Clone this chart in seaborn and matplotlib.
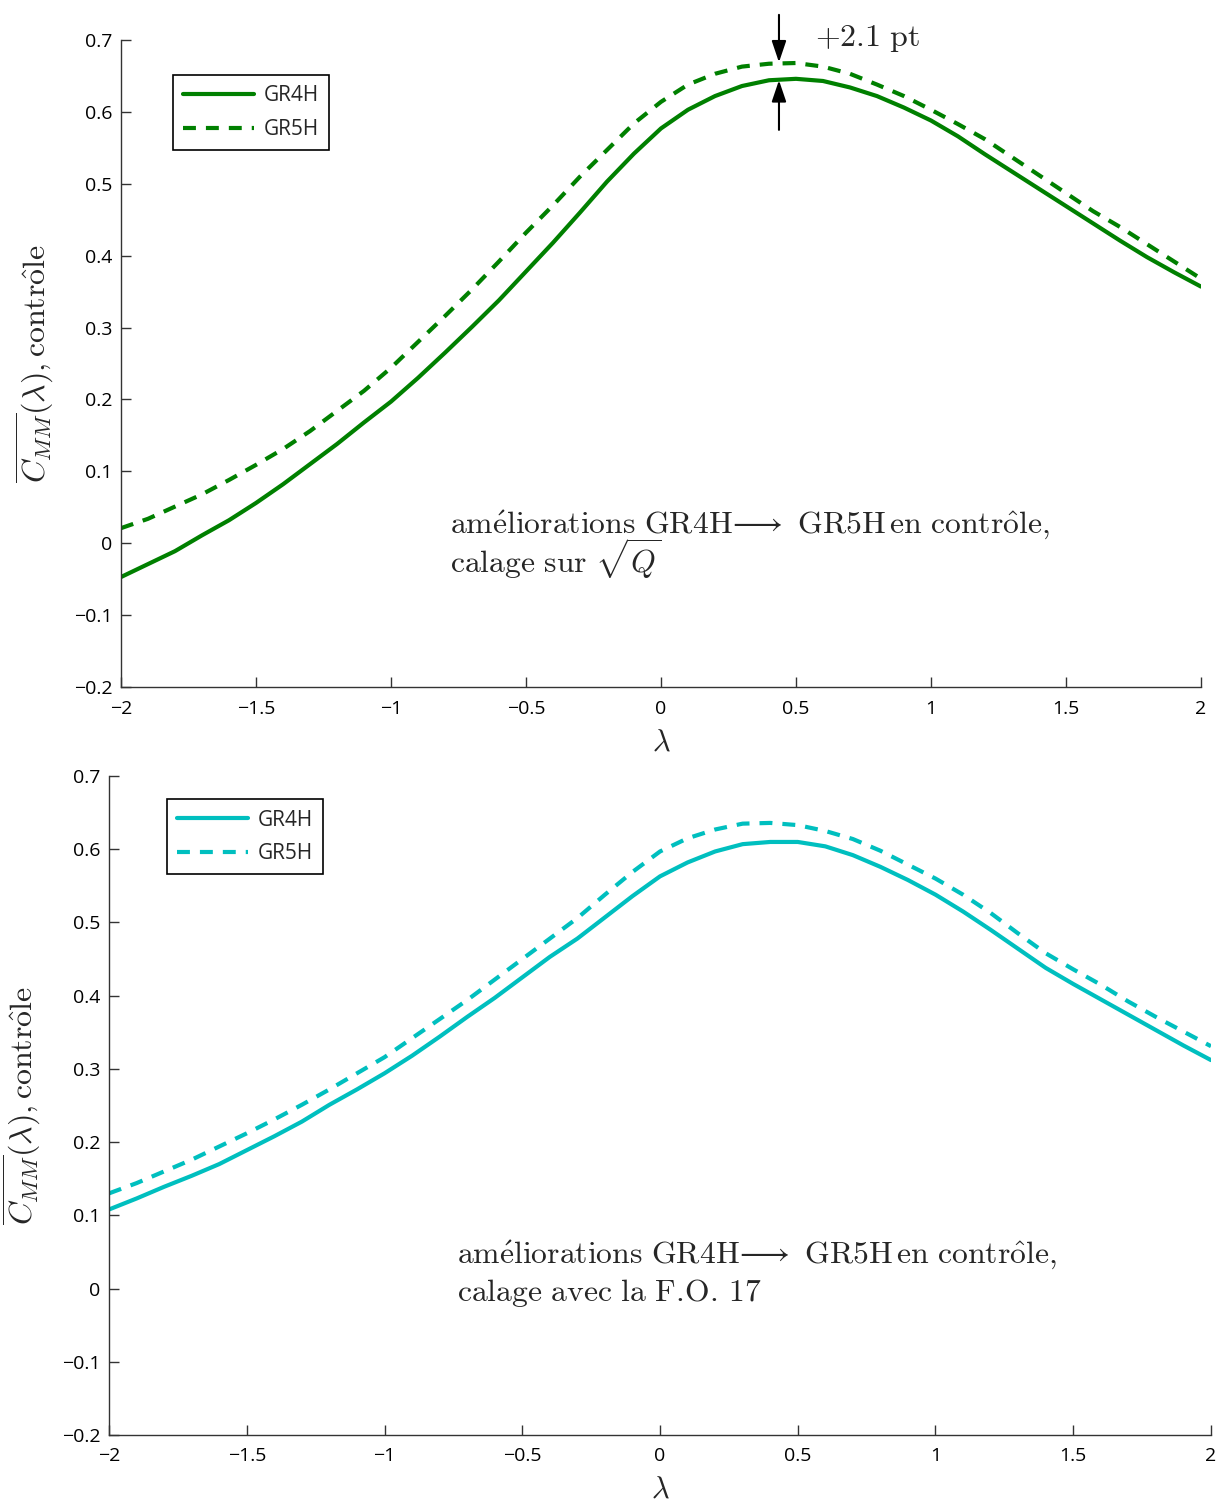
import matplotlib
matplotlib.use("Agg")
import matplotlib.pyplot as plt
import seaborn as sns
import numpy as np

# ---------------- data ----------------
lam = [-2.0, -1.9, -1.8, -1.7, -1.6, -1.5, -1.4, -1.3, -1.2, -1.1,
       -1.0, -0.9, -0.8, -0.7, -0.6, -0.5, -0.4, -0.3, -0.2, -0.1,
       0.0, 0.1, 0.2, 0.3, 0.4, 0.5, 0.6, 0.7, 0.8, 0.9,
       1.0, 1.1, 1.2, 1.3, 1.4, 1.5, 1.6, 1.7, 1.8, 1.9, 2.0]

top_gr4h = [-0.047, -0.029, -0.011, 0.011, 0.032, 0.056, 0.082, 0.110, 0.138, 0.168,
            0.197, 0.230, 0.265, 0.301, 0.338, 0.378, 0.418, 0.460, 0.503, 0.542,
            0.577, 0.603, 0.622, 0.636, 0.644, 0.646, 0.643, 0.634, 0.622, 0.606,
            0.588, 0.566, 0.541, 0.517, 0.493, 0.469, 0.445, 0.421, 0.398, 0.377, 0.357]

top_gr5h = [0.021, 0.034, 0.051, 0.068, 0.088, 0.109, 0.131, 0.156, 0.184, 0.212,
            0.244, 0.280, 0.316, 0.353, 0.392, 0.432, 0.470, 0.510, 0.547, 0.584,
            0.614, 0.638, 0.653, 0.663, 0.667, 0.668, 0.663, 0.653, 0.638, 0.622,
            0.603, 0.583, 0.562, 0.537, 0.512, 0.487, 0.462, 0.440, 0.416, 0.392, 0.368]

bot_gr4h = [0.108, 0.123, 0.139, 0.154, 0.170, 0.189, 0.208, 0.228, 0.251, 0.272,
            0.294, 0.318, 0.344, 0.371, 0.397, 0.425, 0.453, 0.478, 0.507, 0.536,
            0.563, 0.582, 0.597, 0.607, 0.610, 0.610, 0.604, 0.592, 0.576, 0.558,
            0.538, 0.515, 0.490, 0.464, 0.438, 0.416, 0.395, 0.374, 0.353, 0.332, 0.312]

bot_gr5h = [0.130, 0.144, 0.160, 0.176, 0.194, 0.212, 0.231, 0.251, 0.272, 0.294,
            0.316, 0.342, 0.368, 0.394, 0.422, 0.450, 0.478, 0.506, 0.538, 0.569,
            0.597, 0.615, 0.627, 0.635, 0.636, 0.633, 0.625, 0.614, 0.598, 0.579,
            0.560, 0.538, 0.513, 0.485, 0.458, 0.436, 0.415, 0.392, 0.371, 0.351, 0.331]

series_labels = ["GR4H", "GR5H"]
xticks = [-2, -1.5, -1, -0.5, 0, 0.5, 1, 1.5, 2]
xtick_labels = ["\u22122", "\u22121.5", "\u22121", "\u22120.5", "0", "0.5", "1", "1.5", "2"]
yticks = [-0.2, -0.1, 0, 0.1, 0.2, 0.3, 0.4, 0.5, 0.6, 0.7]
ytick_labels = ["\u22120.2", "\u22120.1", "0", "0.1", "0.2", "0.3", "0.4", "0.5", "0.6", "0.7"]

ylabel_txt = r"$\overline{C_{MM}}(\lambda),\mathrm{contr\hat{o}le}$"
xlabel_txt = r"$\lambda$"
note_line1 = r"$\mathrm{am\acute{e}liorations\ GR4H}\!\longrightarrow\ \mathrm{GR5H\,en\ contr\hat{o}le,}$"
top_note2 = r"$\mathrm{calage\ sur\ }\sqrt{Q}$"
bot_note2 = r"$\mathrm{calage\ avec\ la\ F}.\!\mathrm{O}.\!\ \mathrm{17}$"
delta_txt = r"$+2.1\ \mathrm{pt}$"

green = "#008000"
cyan = "#00BFBF"

# ---------------- style ----------------
sns.set_style("ticks")
plt.rcParams["font.family"] = ["Open Sans", "DejaVu Sans"]
plt.rcParams["mathtext.fontset"] = "cm"
plt.rcParams["axes.unicode_minus"] = True

fig = plt.figure(figsize=(12.21, 15.04), dpi=100)
ax1 = fig.add_axes([0.0991, 0.5432, 0.8845, 0.4302])
ax2 = fig.add_axes([0.0893, 0.0459, 0.9025, 0.4381])

dash = (0, (3.1, 2.4))
NOTE_FS = 22.8


def draw(ax, y4, y5, color, leg_anchor, note2, note_xy, note_ls, ylab_x, xlab_y):
    sns.lineplot(x=lam, y=y4, color=color, lw=3, label=series_labels[0], ax=ax)
    sns.lineplot(x=lam, y=y5, color=color, lw=3, linestyle=dash,
                 label=series_labels[1], ax=ax)
    ax.set_xlim(-2, 2)
    ax.set_ylim(-0.2, 0.7)
    ax.set_xticks(xticks)
    ax.set_xticklabels(xtick_labels)
    ax.set_yticks(yticks)
    ax.set_yticklabels(ytick_labels)
    for s in ["top", "right"]:
        ax.spines[s].set_visible(False)
    for s in ["left", "bottom"]:
        ax.spines[s].set_color("#333333")
        ax.spines[s].set_linewidth(1.0)
    ax.tick_params(axis="both", direction="in", length=7, width=1.0,
                   color="#333333", labelsize=14, labelcolor="black")
    ax.tick_params(axis="y", pad=6)
    ax.tick_params(axis="x", pad=9)
    ax.set_ylabel(ylabel_txt, fontsize=23)
    ax.yaxis.set_label_coords(ylab_x, 0.5)
    ax.set_xlabel(xlabel_txt, fontsize=22)
    ax.xaxis.set_label_coords(0.5, xlab_y)
    leg = ax.legend(loc="upper left", bbox_to_anchor=leg_anchor, borderaxespad=0,
                    fontsize=15, handlelength=3.4, handletextpad=0.45,
                    labelspacing=0.6, borderpad=0.5, fancybox=False,
                    framealpha=1, edgecolor="black")
    leg.get_frame().set_linewidth(1.2)
    ax.text(note_xy[0], note_xy[1], note_line1 + "\n" + note2,
            transform=ax.transAxes, fontsize=NOTE_FS, ha="left", va="top",
            linespacing=note_ls)


draw(ax1, top_gr4h, top_gr5h, green, (0.048, 0.946), top_note2,
     (0.3046, 0.276), 0.88, -0.060, -0.062)
draw(ax2, bot_gr4h, bot_gr5h, cyan, (0.0526, 0.965), bot_note2,
     (0.316, 0.298), 1.18, -0.060, -0.060)

# annotation arrows (+2.1 pt)
arrow_x = 0.437
ap = dict(arrowstyle="-|>,head_length=0.65,head_width=0.22", color="black",
          lw=1.5, mutation_scale=20, shrinkA=0, shrinkB=0)
ax1.annotate("", xy=(arrow_x, 0.669), xytext=(arrow_x, 0.735), arrowprops=ap,
             annotation_clip=False)
ax1.annotate("", xy=(arrow_x, 0.644), xytext=(arrow_x, 0.575), arrowprops=ap,
             annotation_clip=False)
ax1.text(0.57, 0.703, delta_txt, fontsize=23, ha="left", va="center")

fig.savefig("out.png", dpi=100)
